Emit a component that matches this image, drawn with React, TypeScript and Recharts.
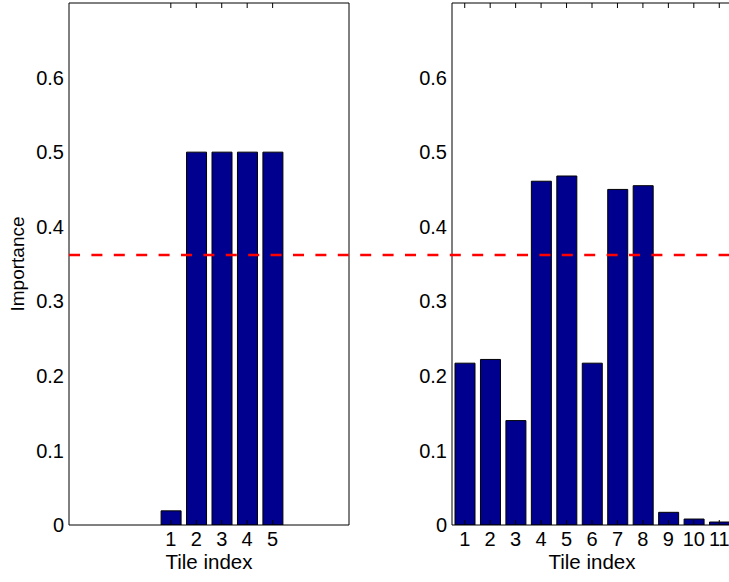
import React from 'react';
import { BarChart, Bar, XAxis, YAxis, ComposedChart, Line } from 'recharts';

// tile importance, first run (5 tiles) and second run (11 tiles)
const leftTiles = [1, 2, 3, 4, 5];
const leftImportance = [0.019, 0.5, 0.5, 0.5, 0.5];
const rightTiles = [1, 2, 3, 4, 5, 6, 7, 8, 9, 10, 11];
const rightImportance = [0.217, 0.222, 0.14, 0.461, 0.468, 0.217, 0.45, 0.455, 0.017, 0.008, 0.004];
const importanceTicks = [0, 0.1, 0.2, 0.3, 0.4, 0.5, 0.6];
const threshold = 0.362;

const font = '"Liberation Sans", Arial, Helvetica, sans-serif';
const tickStyle = { fontSize: 20, fill: '#000', fontFamily: font };
const barFill = '#00008F';

const leftData = leftTiles.map((t, i) => ({ tile: t, value: leftImportance[i] }));
const rightData = rightTiles.map((t, i) => ({ tile: t, value: rightImportance[i] }));

const yLabel = (props: any) => {
  const vb = props.viewBox;
  const x = vb.x + 24;
  const y = vb.y + vb.height / 2;
  return (
    <text x={x} y={y} transform={`rotate(-90 ${x} ${y})`} textAnchor="middle"
      style={{ fontSize: 19, fontFamily: font }} fill="#000">Importance</text>
  );
};

const noText = () => '';

interface PanelProps {
  data: { tile: number; value: number }[];
  tiles: number[];
  domain: [number, number];
  width: number;
  yWidth: number;
  showLabel?: boolean;
}

const Panel = ({ data, tiles, domain, width, yWidth, showLabel }: PanelProps) => (
  <BarChart width={width} height={582} data={data}
    margin={{ top: 3, right: 11, bottom: 7, left: 0 }}>
    {/* labelled axes */}
    <XAxis dataKey="tile" type="number" domain={domain} ticks={tiles} height={50}
      allowDataOverflow interval={0} axisLine={false} tickLine={false}
      tick={tickStyle} tickSize={0} tickMargin={7}
      label={{ value: 'Tile index', position: 'insideBottom', offset: 6, style: { fontSize: 20.5, fontFamily: font, fill: '#000' } }} />
    <YAxis type="number" domain={[0, 0.7]} ticks={importanceTicks} width={yWidth}
      allowDataOverflow axisLine={false} tickLine={false} tick={tickStyle} tickSize={0} tickMargin={5}
      label={showLabel ? { content: yLabel } : undefined} />
    {/* box with inward ticks on all four sides */}
    <XAxis xAxisId="bottomBox" dataKey="tile" type="number" domain={domain} ticks={tiles}
      allowDataOverflow orientation="bottom" mirror tickFormatter={noText} tickSize={5} stroke="#000" height={10} />
    <XAxis xAxisId="topBox" dataKey="tile" type="number" domain={domain} ticks={tiles}
      allowDataOverflow orientation="top" mirror tickFormatter={noText} tickSize={5} stroke="#000" height={10} />
    <YAxis yAxisId="leftBox" orientation="left" mirror type="number" domain={[0, 0.7]}
      ticks={importanceTicks} tickFormatter={noText} tickSize={5} stroke="#000" width={10} />
    <YAxis yAxisId="rightBox" orientation="right" mirror type="number" domain={[0, 0.7]}
      ticks={importanceTicks} tickFormatter={noText} tickSize={5} stroke="#000" width={10} />
    <Bar dataKey="value" fill={barFill} stroke="#000" strokeWidth={1} barSize={20}
      isAnimationActive={false} />
  </BarChart>
);

// threshold spans both panels and the gap between them
const thresholdData = [{ x: 0, t: threshold }, { x: 1, t: threshold }];

export default function App() {
  return (
    <div style={{ position: 'absolute', left: 0, top: 0, width: 729, height: 582, overflow: 'hidden', background: '#fff' }}>
      <div style={{ position: 'absolute', left: 0, top: 0 }}>
        <Panel data={leftData} tiles={leftTiles} domain={[-3, 8]} width={360} yWidth={69} showLabel />
      </div>
      <div style={{ position: 'absolute', left: 400, top: 0 }}>
        <Panel data={rightData} tiles={rightTiles} domain={[0.5, 11.5]} width={343} yWidth={52} />
      </div>
      <div style={{ position: 'absolute', left: 0, top: 0, pointerEvents: 'none' }}>
        <ComposedChart width={732} height={582} data={thresholdData}
          margin={{ top: 3, right: 0, bottom: 57, left: 69 }}>
          <XAxis dataKey="x" type="number" domain={[0, 1]} hide />
          <YAxis type="number" domain={[0, 0.7]} hide />
          <Line dataKey="t" stroke="#FF0000" strokeWidth={2.5} strokeDasharray="11 11.4"
            dot={false} activeDot={false} isAnimationActive={false} />
        </ComposedChart>
      </div>
    </div>
  );
}
